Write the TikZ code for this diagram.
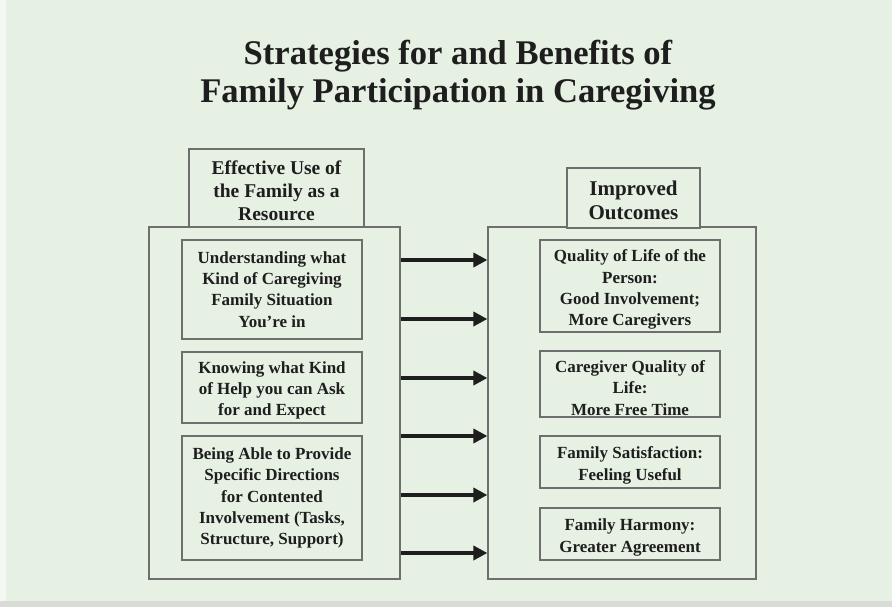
\documentclass[tikz,border=0pt]{standalone}
\usepackage{fontspec}
\setmainfont{Liberation Serif}
\usetikzlibrary{arrows.meta}
\definecolor{bggreen}{HTML}{E6F1E3}
\definecolor{edgegray}{HTML}{6E6E6E}
\definecolor{ink}{HTML}{1E1E1E}
\definecolor{stripgray}{HTML}{D8DBD6}
\definecolor{leftstrip}{HTML}{F4F7F2}
\newcommand{\lowerby}[1]{\rule{0pt}{#1}}
\begin{document}
\begin{tikzpicture}[x=1pt,y=-1pt,
  boxline/.style={draw=edgegray, line width=1.2pt},
  frame/.style={boxline, inner sep=0pt},
  itembox/.style={boxline, inner sep=0pt, align=center, text=ink,
    font=\bfseries\fontsize{17}{21.3}\selectfont},
  headbox/.style={boxline, fill=bggreen, inner sep=0pt, align=center, text=ink,
    font=\bfseries\fontsize{19.5}{23}\selectfont},
  arr/.style={draw=ink, line width=3.5pt, -{Triangle[length=14pt,width=14pt]}}]
% background
\useasboundingbox (0,0) rectangle (892,607);
\fill[leftstrip] (0,0) rectangle (892,607);
\fill[bggreen] (6,0) rectangle (892,601);
\fill[stripgray] (0,601) rectangle (892,607);
% title
\node[font=\bfseries\fontsize{34.6}{37.5}\selectfont, text=ink, align=center] (title) at (458,75)
  {Strategies for and Benefits of\\Family Participation in Caregiving};
% big frames
\node[frame, minimum width=251pt, minimum height=352pt] (L) at (274.5,403) {};
\node[frame, minimum width=268pt, minimum height=352pt] (R) at (622,403) {};
% headers
\node[headbox, minimum width=175pt, minimum height=78pt] (LH) at (276.5,188)
  {\lowerby{20pt}Effective Use of\\the Family as a\\Resource};
\node[headbox, font=\bfseries\fontsize{21}{24}\selectfont, minimum width=133pt, minimum height=60pt] (RH) at (633.5,198)
  {\lowerby{19pt}Improved\\Outcomes};
% left items
\node[itembox, minimum width=180pt, minimum height=99pt] (L1) at (272,289.5)
  {Understanding what\\Kind of Caregiving\\Family Situation\\You’re in};
\node[itembox, minimum width=180pt, minimum height=71pt] (L2) at (272,387.5)
  {\lowerby{17.5pt}Knowing what Kind\\of Help you can Ask\\for and Expect};
\node[itembox, minimum width=180pt, minimum height=124pt] (L3) at (272,498)
  {Being Able to Provide\\Specific Directions\\for Contented\\Involvement (Tasks,\\Structure, Support)};
% right items
\node[itembox, minimum width=180pt, minimum height=92pt] (R1) at (630,286)
  {\lowerby{19.5pt}Quality of Life of the\\Person:\\Good Involvement;\\More Caregivers};
\node[itembox, minimum width=180pt, minimum height=66pt] (R2) at (630,384)
  {\lowerby{20pt}Caregiver Quality of\\Life:\\More Free Time};
\node[itembox, minimum width=180pt, minimum height=52pt] (R3) at (630,462)
  {\lowerby{19pt}Family Satisfaction:\\Feeling Useful};
\node[itembox, minimum width=180pt, minimum height=52pt] (R4) at (630,534)
  {\lowerby{19pt}Family Harmony:\\Greater Agreement};
% arrows
\foreach \yy in {260,319,378,436,495,553}
  \draw[arr] (L.east |- 0,\yy) -- (R.west |- 0,\yy);
\end{tikzpicture}
\end{document}
